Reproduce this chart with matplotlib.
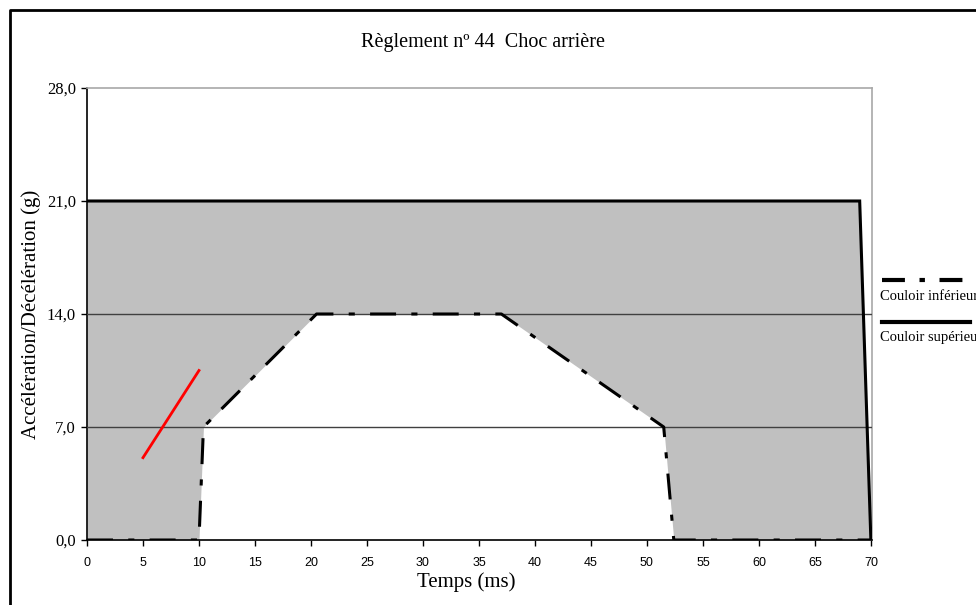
import matplotlib
matplotlib.use('Agg')
import matplotlib.pyplot as plt
from matplotlib.lines import Line2D

# corridor data (time in ms, acceleration in g)
upper_t = [0, 69, 70]
upper_g = [21, 21, 0]
lower_t = [0, 10, 10.4, 20.5, 37, 51.5, 52.4, 70]
lower_g = [0, 0, 7, 14, 14, 7, 0, 0]
# measured curve (red)
test_t = [5, 10]
test_g = [5.1, 10.5]

x_ticks = list(range(0, 75, 5))
y_ticks = [0, 7, 14, 21, 28]
y_labels = ['0,0', '7,0', '14,0', '21,0', '28,0']

serif = 'Liberation Serif'
dashdot = (0, (8.5, 5, 2, 5))

fig = plt.figure(figsize=(9.76, 6.05), dpi=100)
ax = fig.add_axes([87 / 976, 1 - 540 / 605, 785 / 976, 452 / 605])

# gray zone under upper corridor, white under lower corridor
ax.fill_between(upper_t, upper_g, color='#c0c0c0', lw=0, zorder=1)
ax.fill_between(lower_t, lower_g, color='white', lw=0, zorder=2)

for yv in [7, 14]:
    ax.axhline(yv, color='#404040', lw=1.0, zorder=3)

ax.plot(upper_t, upper_g, color='black', lw=2.2, zorder=4, solid_joinstyle='miter')
ax.plot(lower_t, lower_g, color='black', lw=2.2, ls=dashdot, zorder=4)
ax.plot(test_t, test_g, color='red', lw=2, zorder=5)

ax.set_xlim(0, 70.1)
ax.set_ylim(0, 28)
ax.set_xticks(x_ticks)
ax.set_xticklabels([str(v) for v in x_ticks], family='Liberation Sans', fontsize=9)
ax.set_yticks(y_ticks)
ax.set_yticklabels(y_labels, family=serif, fontsize=12)
ax.tick_params(direction='out', length=4, width=1, pad=4)
ax.tick_params(axis='x', pad=8)

for side in ['left', 'bottom']:
    ax.spines[side].set_color('black')
    ax.spines[side].set_linewidth(1.2)
for side in ['top', 'right']:
    ax.spines[side].set_color('#a8a8a8')
    ax.spines[side].set_linewidth(1.2)

fig.text(483 / 976, 1 - 42 / 605, 'Règlement nº 44  Choc arrière', family=serif,
         fontsize=14.5, ha='center', va='center')
fig.text(466 / 976, 1 - 582 / 605, 'Temps (ms)', family=serif, fontsize=15,
         ha='center', va='center')
fig.text(31 / 976, 1 - 314 / 605, 'Accélération/Décélération (g)', family=serif,
         fontsize=15, rotation=90, ha='center', va='center')

# legend outside on the right
fig.add_artist(Line2D([882 / 976, 966 / 976], [1 - 280 / 605] * 2, color='black',
                      lw=3, ls=(0, (5.5, 3.5, 1.3, 3.5)), transform=fig.transFigure))
fig.text(880 / 976, 1 - 296 / 605, 'Couloir inférieur', family=serif, fontsize=10.5,
         ha='left', va='center')
fig.add_artist(Line2D([882 / 976, 970 / 976], [1 - 322 / 605] * 2, color='black',
                      lw=3, transform=fig.transFigure))
fig.text(880 / 976, 1 - 338 / 605, 'Couloir supérieur', family=serif, fontsize=10.5,
         ha='left', va='center')

# outer frame (left and top edges visible)
fig.add_artist(Line2D([10 / 976, 10 / 976, 1.0], [0, 1 - 10 / 605, 1 - 10 / 605],
                      color='black', lw=2, transform=fig.transFigure))

fig.savefig('out.png', dpi=100)
